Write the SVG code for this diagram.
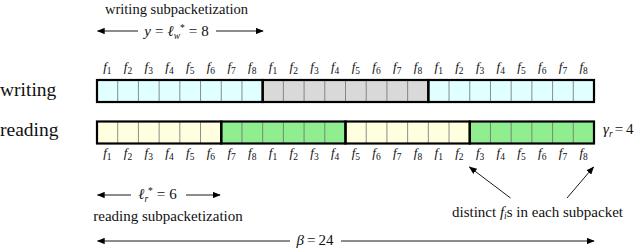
<svg xmlns="http://www.w3.org/2000/svg" width="640" height="249" viewBox="0 0 640 249">
<style>
text{fill:#111;font-family:'Liberation Serif','DejaVu Serif',serif}
.lab{font-size:19.5px}
.cap{font-size:14.5px}
.cap2{font-size:15px}
.m{font-size:15px}
.f{font-size:13px;text-anchor:middle}
.i{font-style:italic}
.sub{font-size:9.5px}
.thin{stroke:#707070;stroke-width:0.8;fill:none}
.thick{stroke:#000;stroke-width:2.2;fill:none}
.cy{fill:#e0ffff}.gy{fill:#d9d9d9}.ye{fill:#ffffe0}.gr{fill:#90ee90}
.arr{stroke:#000;stroke-width:0.9;fill:none}
</style>
<defs>
<marker id="ah" viewBox="0 0 10 8" refX="9" refY="4" markerWidth="8" markerHeight="6.4" markerUnits="userSpaceOnUse" orient="auto">
<path d="M0,0 L10,4 L0,8 Z" fill="#000"/>
</marker>
</defs>

<g id="label-writing"><text class="lab" x="0" y="96">writing</text></g>
<g id="label-reading"><text class="lab" x="0" y="136">reading</text></g>

<g id="writing-bar">
<rect class="cy" x="97" y="80" width="165.67" height="22"/>
<rect class="gy" x="262.67" y="80" width="165.67" height="22"/>
<rect class="cy" x="428.33" y="80" width="165.67" height="22"/>
<path class="thin" d="M117.71,80V102M138.42,80V102M159.13,80V102M179.83,80V102M200.54,80V102M221.25,80V102M241.96,80V102M283.38,80V102M304.08,80V102M324.79,80V102M345.5,80V102M366.21,80V102M386.92,80V102M407.63,80V102M449.04,80V102M469.75,80V102M490.46,80V102M511.17,80V102M531.88,80V102M552.58,80V102M573.29,80V102"/>
<rect class="thick" x="97" y="80" width="165.67" height="22"/>
<rect class="thick" x="262.67" y="80" width="165.67" height="22"/>
<rect class="thick" x="428.33" y="80" width="165.67" height="22"/>
</g>

<g id="reading-bar">
<rect class="ye" x="97" y="121.5" width="124.25" height="22"/>
<rect class="gr" x="221.25" y="121.5" width="124.25" height="22"/>
<rect class="ye" x="345.5" y="121.5" width="124.25" height="22"/>
<rect class="gr" x="469.75" y="121.5" width="124.25" height="22"/>
<path class="thin" d="M117.71,121.5V143.5M138.42,121.5V143.5M159.13,121.5V143.5M179.83,121.5V143.5M200.54,121.5V143.5M241.96,121.5V143.5M262.67,121.5V143.5M283.38,121.5V143.5M304.08,121.5V143.5M324.79,121.5V143.5M366.21,121.5V143.5M386.92,121.5V143.5M407.63,121.5V143.5M428.33,121.5V143.5M449.04,121.5V143.5M490.46,121.5V143.5M511.17,121.5V143.5M531.88,121.5V143.5M552.58,121.5V143.5M573.29,121.5V143.5"/>
<rect class="thick" x="97" y="121.5" width="124.25" height="22"/>
<rect class="thick" x="221.25" y="121.5" width="124.25" height="22"/>
<rect class="thick" x="345.5" y="121.5" width="124.25" height="22"/>
<rect class="thick" x="469.75" y="121.5" width="124.25" height="22"/>
</g>

<g id="top-f-labels">
<text class="f" x="107.35" y="71"><tspan class="i">f</tspan><tspan class="sub" dy="3">1</tspan></text>
<text class="f" x="128.06" y="71"><tspan class="i">f</tspan><tspan class="sub" dy="3">2</tspan></text>
<text class="f" x="148.77" y="71"><tspan class="i">f</tspan><tspan class="sub" dy="3">3</tspan></text>
<text class="f" x="169.48" y="71"><tspan class="i">f</tspan><tspan class="sub" dy="3">4</tspan></text>
<text class="f" x="190.19" y="71"><tspan class="i">f</tspan><tspan class="sub" dy="3">5</tspan></text>
<text class="f" x="210.9" y="71"><tspan class="i">f</tspan><tspan class="sub" dy="3">6</tspan></text>
<text class="f" x="231.6" y="71"><tspan class="i">f</tspan><tspan class="sub" dy="3">7</tspan></text>
<text class="f" x="252.31" y="71"><tspan class="i">f</tspan><tspan class="sub" dy="3">8</tspan></text>
<text class="f" x="273.02" y="71"><tspan class="i">f</tspan><tspan class="sub" dy="3">1</tspan></text>
<text class="f" x="293.73" y="71"><tspan class="i">f</tspan><tspan class="sub" dy="3">2</tspan></text>
<text class="f" x="314.44" y="71"><tspan class="i">f</tspan><tspan class="sub" dy="3">3</tspan></text>
<text class="f" x="335.15" y="71"><tspan class="i">f</tspan><tspan class="sub" dy="3">4</tspan></text>
<text class="f" x="355.85" y="71"><tspan class="i">f</tspan><tspan class="sub" dy="3">5</tspan></text>
<text class="f" x="376.56" y="71"><tspan class="i">f</tspan><tspan class="sub" dy="3">6</tspan></text>
<text class="f" x="397.27" y="71"><tspan class="i">f</tspan><tspan class="sub" dy="3">7</tspan></text>
<text class="f" x="417.98" y="71"><tspan class="i">f</tspan><tspan class="sub" dy="3">8</tspan></text>
<text class="f" x="438.69" y="71"><tspan class="i">f</tspan><tspan class="sub" dy="3">1</tspan></text>
<text class="f" x="459.4" y="71"><tspan class="i">f</tspan><tspan class="sub" dy="3">2</tspan></text>
<text class="f" x="480.1" y="71"><tspan class="i">f</tspan><tspan class="sub" dy="3">3</tspan></text>
<text class="f" x="500.81" y="71"><tspan class="i">f</tspan><tspan class="sub" dy="3">4</tspan></text>
<text class="f" x="521.52" y="71"><tspan class="i">f</tspan><tspan class="sub" dy="3">5</tspan></text>
<text class="f" x="542.23" y="71"><tspan class="i">f</tspan><tspan class="sub" dy="3">6</tspan></text>
<text class="f" x="562.94" y="71"><tspan class="i">f</tspan><tspan class="sub" dy="3">7</tspan></text>
<text class="f" x="583.65" y="71"><tspan class="i">f</tspan><tspan class="sub" dy="3">8</tspan></text>
</g>

<g id="bottom-f-labels">
<text class="f" x="107.35" y="157"><tspan class="i">f</tspan><tspan class="sub" dy="3">1</tspan></text>
<text class="f" x="128.06" y="157"><tspan class="i">f</tspan><tspan class="sub" dy="3">2</tspan></text>
<text class="f" x="148.77" y="157"><tspan class="i">f</tspan><tspan class="sub" dy="3">3</tspan></text>
<text class="f" x="169.48" y="157"><tspan class="i">f</tspan><tspan class="sub" dy="3">4</tspan></text>
<text class="f" x="190.19" y="157"><tspan class="i">f</tspan><tspan class="sub" dy="3">5</tspan></text>
<text class="f" x="210.9" y="157"><tspan class="i">f</tspan><tspan class="sub" dy="3">6</tspan></text>
<text class="f" x="231.6" y="157"><tspan class="i">f</tspan><tspan class="sub" dy="3">7</tspan></text>
<text class="f" x="252.31" y="157"><tspan class="i">f</tspan><tspan class="sub" dy="3">8</tspan></text>
<text class="f" x="273.02" y="157"><tspan class="i">f</tspan><tspan class="sub" dy="3">1</tspan></text>
<text class="f" x="293.73" y="157"><tspan class="i">f</tspan><tspan class="sub" dy="3">2</tspan></text>
<text class="f" x="314.44" y="157"><tspan class="i">f</tspan><tspan class="sub" dy="3">3</tspan></text>
<text class="f" x="335.15" y="157"><tspan class="i">f</tspan><tspan class="sub" dy="3">4</tspan></text>
<text class="f" x="355.85" y="157"><tspan class="i">f</tspan><tspan class="sub" dy="3">5</tspan></text>
<text class="f" x="376.56" y="157"><tspan class="i">f</tspan><tspan class="sub" dy="3">6</tspan></text>
<text class="f" x="397.27" y="157"><tspan class="i">f</tspan><tspan class="sub" dy="3">7</tspan></text>
<text class="f" x="417.98" y="157"><tspan class="i">f</tspan><tspan class="sub" dy="3">8</tspan></text>
<text class="f" x="438.69" y="157"><tspan class="i">f</tspan><tspan class="sub" dy="3">1</tspan></text>
<text class="f" x="459.4" y="157"><tspan class="i">f</tspan><tspan class="sub" dy="3">2</tspan></text>
<text class="f" x="480.1" y="157"><tspan class="i">f</tspan><tspan class="sub" dy="3">3</tspan></text>
<text class="f" x="500.81" y="157"><tspan class="i">f</tspan><tspan class="sub" dy="3">4</tspan></text>
<text class="f" x="521.52" y="157"><tspan class="i">f</tspan><tspan class="sub" dy="3">5</tspan></text>
<text class="f" x="542.23" y="157"><tspan class="i">f</tspan><tspan class="sub" dy="3">6</tspan></text>
<text class="f" x="562.94" y="157"><tspan class="i">f</tspan><tspan class="sub" dy="3">7</tspan></text>
<text class="f" x="583.65" y="157"><tspan class="i">f</tspan><tspan class="sub" dy="3">8</tspan></text>
</g>

<g id="gamma-label"><text class="m" x="603" y="134"><tspan class="i">γ</tspan><tspan class="sub i" dy="3">r</tspan><tspan dy="-3" dx="2">=</tspan><tspan dx="3">4</tspan></text></g>

<g id="writing-caption">
<text class="cap" x="176.5" y="13.5" text-anchor="middle">writing subpacketization</text>
<text class="m" x="176.5" y="36" text-anchor="middle"><tspan class="i">y</tspan><tspan dx="4">=</tspan><tspan class="i" dx="4">ℓ</tspan><tspan class="sub i" dy="3">w</tspan><tspan class="sub" dy="-8">*</tspan><tspan dy="5" dx="4">=</tspan><tspan dx="4">8</tspan></text>
</g>

<g id="reading-caption">
<text class="m" x="157.5" y="199" text-anchor="middle"><tspan class="i">ℓ</tspan><tspan class="sub i" dy="3">r</tspan><tspan class="sub" dy="-8">*</tspan><tspan dy="5" dx="4">=</tspan><tspan dx="4">6</tspan></text>
<text class="cap2" x="168" y="221" text-anchor="middle">reading subpacketization</text>
</g>

<g id="distinct-caption"><text class="cap2" x="537.5" y="217" text-anchor="middle">distinct <tspan class="i">f</tspan><tspan class="sub i" dy="2">i</tspan><tspan dy="-2">s in each subpacket</tspan></text></g>

<g id="beta-caption"><text class="m" x="315" y="245" text-anchor="middle"><tspan class="i">β</tspan><tspan dx="3">=</tspan><tspan dx="3">24</tspan></text></g>

<g id="connectors">
<path class="arr" d="M138,31H97.5" marker-end="url(#ah)"/>
<path class="arr" d="M216,31H263" marker-end="url(#ah)"/>
<path class="arr" d="M131,195H97.5" marker-end="url(#ah)"/>
<path class="arr" d="M186,195H220" marker-end="url(#ah)"/>
<path class="arr" d="M290,241H97.5" marker-end="url(#ah)"/>
<path class="arr" d="M341,241H594" marker-end="url(#ah)"/>
<path class="arr" d="M510.5,198L469.5,167" marker-end="url(#ah)"/>
<path class="arr" d="M567,198L593.5,167" marker-end="url(#ah)"/>
</g>
</svg>
